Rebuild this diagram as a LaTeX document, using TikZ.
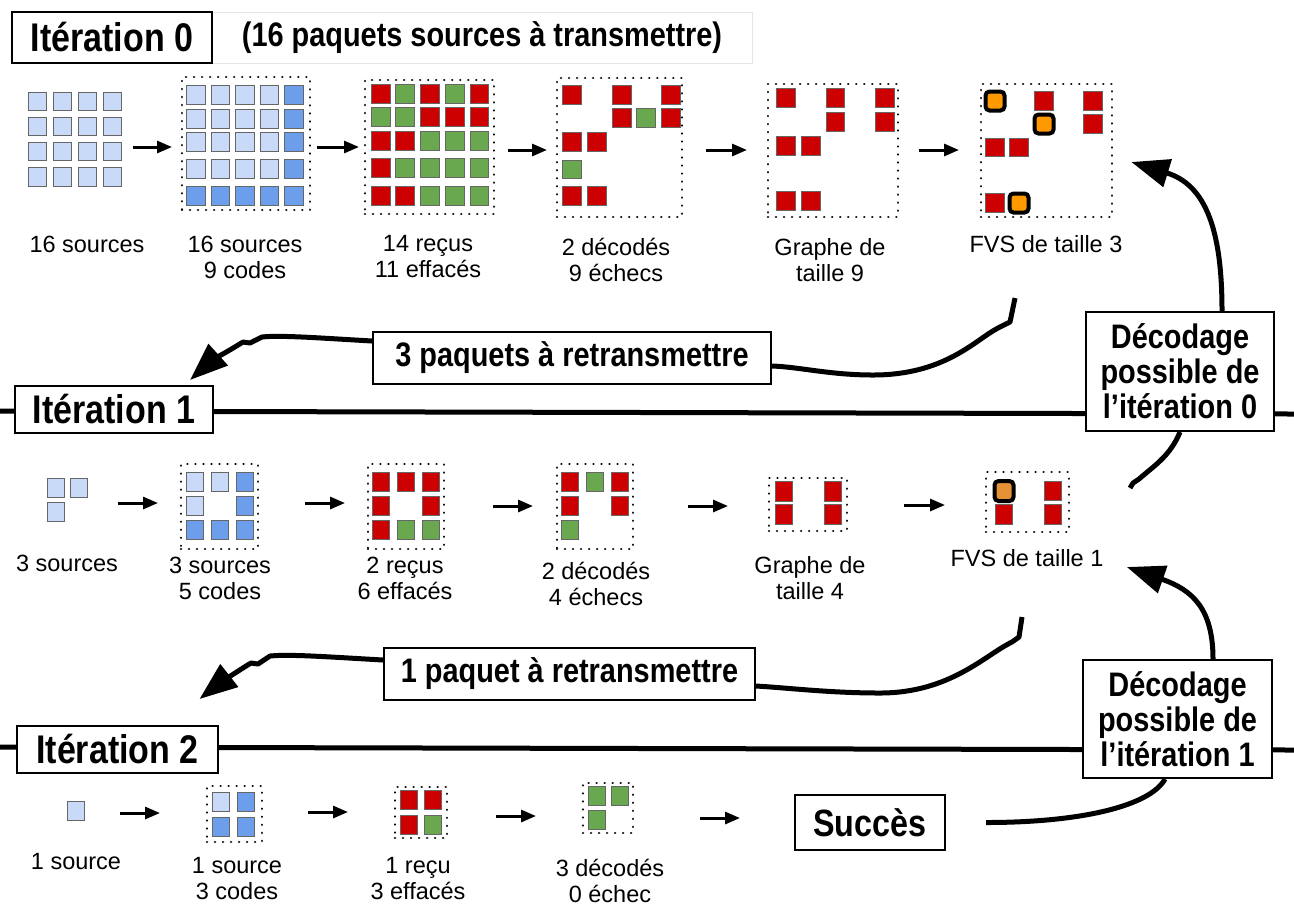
\documentclass[tikz,border=0pt]{standalone}
\usepackage{fontspec}
\setmainfont{Liberation Sans}
\newfontfamily\narrow[FakeStretch=0.85]{Liberation Sans}
\usetikzlibrary{arrows.meta,calc}
\definecolor{lb}{HTML}{C9DAF8}
\definecolor{db}{HTML}{6D9EEB}
\definecolor{rd}{HTML}{CC0000}
\definecolor{gr}{HTML}{6AA84F}
\definecolor{orA}{HTML}{FF9900}
\definecolor{orB}{HTML}{E69138}
\definecolor{cborder}{HTML}{666666}
\newcommand\cellQ[3]{\path[cell,fill=#1,shift={(#2,#3)}] (-9.25,-9.25) rectangle (9.25,9.25);}
\newcommand\cellR[3]{\path[cell,fill=#1,shift={(#2,#3)}] (-8.5,-9.75) rectangle (8.5,9.75);}
\newcommand\hlQ[3]{\path[fill=#1,draw=black,line width=2pt,rounded corners=2pt,shift={(#2,#3)}] (-9.5,-9.5) rectangle (9.5,9.5);}
\newcommand\hlR[3]{\path[fill=#1,draw=black,line width=2pt,rounded corners=2pt,shift={(#2,#3)}] (-9.5,-10) rectangle (9.5,10);}
\tikzset{
 box/.style={draw=black,line width=1pt,fill=white,inner sep=0pt,align=center,font=\narrow\bfseries\fontsize{17}{17.5}\selectfont},
 titlebox/.style={box,font=\narrow\bfseries\fontsize{20}{24}\selectfont},
 dotbox/.style={draw=black,line width=1.3pt,dash pattern=on 0.01pt off 4pt,line cap=round,inner sep=0pt},
 lbl/.style={align=center,inner sep=0pt,font=\fontsize{11.75}{13}\selectfont},
 cell/.style={draw=cborder,line width=0.5pt},
 sarr/.style={line width=1.5pt,-{Triangle[length=7.5pt,width=6pt]}},
 heavy/.style={line width=2.5pt,line join=round},
 barr/.style={heavy,-{Triangle[length=19pt,width=14pt]}},
}
\begin{document}
\begin{tikzpicture}[x=0.5pt,y=-0.5pt]
\useasboundingbox[fill=white] (0,0) rectangle (1294,907);

% long horizontal separators
\coordinate (h1a) at (0,411); \coordinate (h1b) at (1294,414);
\coordinate (h2a) at (0,747); \coordinate (h2b) at (1294,750);
\draw[heavy] (h1a) -- (h1b);
\draw[heavy] (h2a) -- (h2b);

% ---------- titles and boxes ----------
\node[draw=gray!20,line width=0.5pt,inner sep=0pt,minimum width=270pt,minimum height=25.5pt,font=\narrow\bfseries\fontsize{17}{20}\selectfont] (sub0) at (482,37.5) {(16 paquets sources à transmettre)};
\node[titlebox,minimum width=100pt,minimum height=25.5pt] (it0) at (112,37.5) {Itération 0};
\node[titlebox,minimum width=99pt,minimum height=23.5pt] (it1) at (114,409.5) {Itération 1};
\node[titlebox,minimum width=100.5pt,minimum height=23.5pt] (it2) at (117.5,749.5) {Itération 2};
\node[box,minimum width=199pt,minimum height=26pt] (re0) at (572,358) {3 paquets à retransmettre};
\node[box,minimum width=185.5pt,minimum height=26pt] (re1) at (569.5,674) {1 paquet à retransmettre};
\node[box,minimum width=94pt,minimum height=59.5pt] (dec0) at (1180,371.5) {Décodage\\possible de\\l’itération 0};
\node[box,minimum width=94.5pt,minimum height=59pt] (dec1) at (1177.5,719) {Décodage\\possible de\\l’itération 1};
\node[box,font=\narrow\bfseries\fontsize{19}{22}\selectfont,minimum width=75pt,minimum height=27.5pt] (succ) at (870,822.5) {Succès};

% ---------- row 0 ----------
\foreach \x in {37.5,62.5,87.5,112.5} \foreach \y in {101.5,126.5,151.5,177} {\cellQ{lb}{\x}{\y}}

\node[dotbox,minimum width=64pt,minimum height=66.5pt] (g02) at (246,143.5) {};
\foreach \x in {196,220.5,245,269.5} \foreach \y in {95,119,142,169} {\cellQ{lb}{\x}{\y}}
\foreach \y in {95,119,142,169} {\cellQ{db}{294}{\y}}
\foreach \x in {196,220.5,245,269.5,294} {\cellQ{db}{\x}{196}}

\node[dotbox,minimum width=64.5pt,minimum height=67pt] (g03) at (429.5,147) {};
\foreach \c/\x/\y in {rd/381/94, gr/405/94, rd/430/94, gr/455/94, rd/479.5/94,
 gr/381/117, gr/405/117, rd/430/117, rd/455/117, rd/479.5/117,
 rd/381/141, rd/405/141, gr/430/141, gr/455/141, gr/479.5/141,
 rd/381/168, gr/405/168, gr/430/168, gr/455/168, gr/479.5/168,
 rd/381/196, rd/405/196, gr/430/196, gr/455/196, gr/479.5/196} {\cellQ{\c}{\x}{\y}}

\node[dotbox,minimum width=62.5pt,minimum height=69.5pt] (g04) at (619.5,147.5) {};
\foreach \c/\x/\y in {rd/572/95, rd/622/95, rd/671/95, rd/622/118, gr/646/118, rd/671/118,
 rd/572/142, rd/597/142, gr/572/169.5, rd/572/196, rd/597/196} {\cellQ{\c}{\x}{\y}}

\node[dotbox,minimum width=65pt,minimum height=66.5pt] (g05) at (833,150.5) {};
\foreach \x/\y in {786/98, 835.5/98, 885/98, 835.5/122, 885/122, 786/146, 811/146, 786/201, 811/201} {\cellQ{rd}{\x}{\y}}

\node[dotbox,minimum width=65.5pt,minimum height=66.5pt] (g06) at (1046.5,150.5) {};
\foreach \x/\y in {1044/101, 1093/101, 1093/124, 995/147.5, 1019/147.5, 995/203} {\cellQ{rd}{\x}{\y}}
\foreach \x/\y in {995/101, 1044/124, 1019/203} {\hlQ{orA}{\x}{\y}}

\coordinate (a1s) at (133,147); \coordinate (a1e) at (172,147);
\coordinate (a2s) at (317,147); \coordinate (a2e) at (359,147);
\coordinate (a3s) at (508,150); \coordinate (a3e) at (547,150);
\coordinate (a4s) at (706,150); \coordinate (a4e) at (747,150);
\coordinate (a5s) at (919,150); \coordinate (a5e) at (959,150);
\foreach \i in {1,...,5} {\draw[sarr] (a\i s) -- (a\i e);}

\node[lbl] (l01) at (87,244) {16 sources};
\node[lbl] (l02) at (245,257) {16 sources\\9 codes};
\node[lbl] (l03) at (428,257) {14 reçus\\11 effacés};
\node[lbl] (l04) at (616,260) {2 décodés\\9 échecs};
\node[lbl] (l05) at (830,260) {Graphe de\\taille 9};
\node[lbl] (l06) at (1046,244) {FVS de taille 3};

% ---------- row 1 ----------
\foreach \x/\y in {55.5/488, 79/488, 55.5/512} {\cellR{lb}{\x}{\y}}

\node[dotbox,minimum width=38.5pt,minimum height=42.5pt] (g12) at (219.5,506.5) {};
\foreach \c/\x/\y in {lb/195/482, lb/220/482, db/245/482, lb/195/506, db/245/506, db/195/530, db/220/530, db/245/530} {\cellR{\c}{\x}{\y}}

\node[dotbox,minimum width=38pt,minimum height=42.5pt] (g13) at (406,506.5) {};
\foreach \c/\x/\y in {rd/381/482, rd/406/482, rd/431/482, rd/381/506, rd/431/506, rd/381/530, gr/406/530, gr/431/530} {\cellR{\c}{\x}{\y}}

\node[dotbox,minimum width=38pt,minimum height=42.5pt] (g14) at (595,506.5) {};
\foreach \c/\x/\y in {rd/570/482, gr/595/482, rd/620/482, rd/570/506, rd/620/506, gr/570/530} {\cellR{\c}{\x}{\y}}

\node[dotbox,minimum width=39pt,minimum height=26.5pt] (g15) at (808,504.5) {};
\foreach \x/\y in {783.5/491.5, 833/491.5, 783.5/514.5, 833/514.5} {\cellR{rd}{\x}{\y}}

\node[dotbox,minimum width=41.5pt,minimum height=30pt] (g16) at (1027.5,502) {};
\foreach \x/\y in {1004/514.5, 1053/491, 1053/514.5} {\cellR{rd}{\x}{\y}}
\hlR{orB}{1004}{491}

\coordinate (b1s) at (118,503); \coordinate (b1e) at (158,503);
\coordinate (b2s) at (305,503); \coordinate (b2e) at (345,503);
\coordinate (b3s) at (493,506); \coordinate (b3e) at (533,506);
\coordinate (b4s) at (688,506); \coordinate (b4e) at (728,506);
\coordinate (b5s) at (904,505); \coordinate (b5e) at (945,505);
\foreach \i in {1,...,5} {\draw[sarr] (b\i s) -- (b\i e);}

\node[lbl] (l11) at (67,563) {3 sources};
\node[lbl] (l12) at (220,578) {3 sources\\5 codes};
\node[lbl] (l13) at (405,578) {2 reçus\\6 effacés};
\node[lbl] (l14) at (596,584) {2 décodés\\4 échecs};
\node[lbl] (l15) at (810,578) {Graphe de\\taille 4};
\node[lbl] (l16) at (1027,558) {FVS de taille 1};

% ---------- row 2 ----------
\cellR{lb}{76}{811}
\node[dotbox,minimum width=27.5pt,minimum height=28pt] (g22) at (234.5,814) {};
\foreach \c/\x/\y in {lb/221/802, db/245.5/802, db/221/827, db/245.5/827} {\cellR{\c}{\x}{\y}}
\node[dotbox,minimum width=26pt,minimum height=25.5pt] (g23) at (421,812.5) {};
\foreach \c/\x/\y in {rd/408.5/800, rd/433/800, rd/408.5/825, gr/433/825} {\cellR{\c}{\x}{\y}}
\node[dotbox,minimum width=25pt,minimum height=25pt] (g24) at (608,808) {};
\foreach \c/\x/\y in {gr/596.5/796, gr/620/796, gr/596.5/820} {\cellR{\c}{\x}{\y}}

\coordinate (c1s) at (120,813); \coordinate (c1e) at (160,813);
\coordinate (c2s) at (308,812); \coordinate (c2e) at (348,812);
\coordinate (c3s) at (496,816); \coordinate (c3e) at (536,816);
\coordinate (c4s) at (700,818); \coordinate (c4e) at (740,818);
\foreach \i in {1,...,4} {\draw[sarr] (c\i s) -- (c\i e);}

\node[lbl] (l21) at (76,862) {1 source};
\node[lbl] (l22) at (237,879) {1 source\\3 codes};
\node[lbl] (l23) at (418,879) {1 reçu\\3 effacés};
\node[lbl] (l24) at (610,881) {3 décodés\\0 échec};

% ---------- big curved connectors ----------
\draw[barr] ([xshift=21pt]dec0.north) .. controls +(0,-80) and +(75,23) .. ([shift={(9pt,-5.75pt)}]g06.east);
\coordinate (k0) at (1130,488);
\draw[heavy] (dec0.south) .. controls +(-10,24) and +(16,-14) .. (1139,479) -- (1133,483) -- (k0);

\coordinate (f0) at (1015,298);
\draw[heavy] (f0) -- (1010,322) -- (998,328) .. controls (975,340) and (945,375) .. (873,375) .. controls (830,375) and (800,367) .. ([yshift=-4pt]re0.east);
\draw[barr] ([yshift=8.5pt]re0.west) .. controls (320,338) and (280,335) .. (262,337) -- (250,343) -- (243,342) .. controls (230,350) and (210,362) .. ([shift={(38pt,2.5pt)}]it1.north);

\draw[barr] ([xshift=17.75pt]dec1.north) .. controls +(0,-50) and +(66,23) .. ([shift={(11.5pt,-4.5pt)}]l16.east);
\draw[heavy] ([xshift=20pt]succ.east) .. controls +(95,0) and +(-15,27) .. ([xshift=-6.25pt]dec1.south);

\coordinate (f1) at (1022,617);
\draw[heavy] (f1) -- (1019,637) -- (1012,642) .. controls (985,655) and (950,693) .. (880,693) .. controls (830,693) and (790,688) .. ([yshift=-6pt]re1.east);
\draw[barr] ([yshift=7pt]re1.west) .. controls (330,657) and (290,654) .. (270,656) -- (258,664) -- (251,663) .. controls (236,672) and (216,686) .. ([shift={(41pt,13pt)}]it2.north);
\end{tikzpicture}
\end{document}
